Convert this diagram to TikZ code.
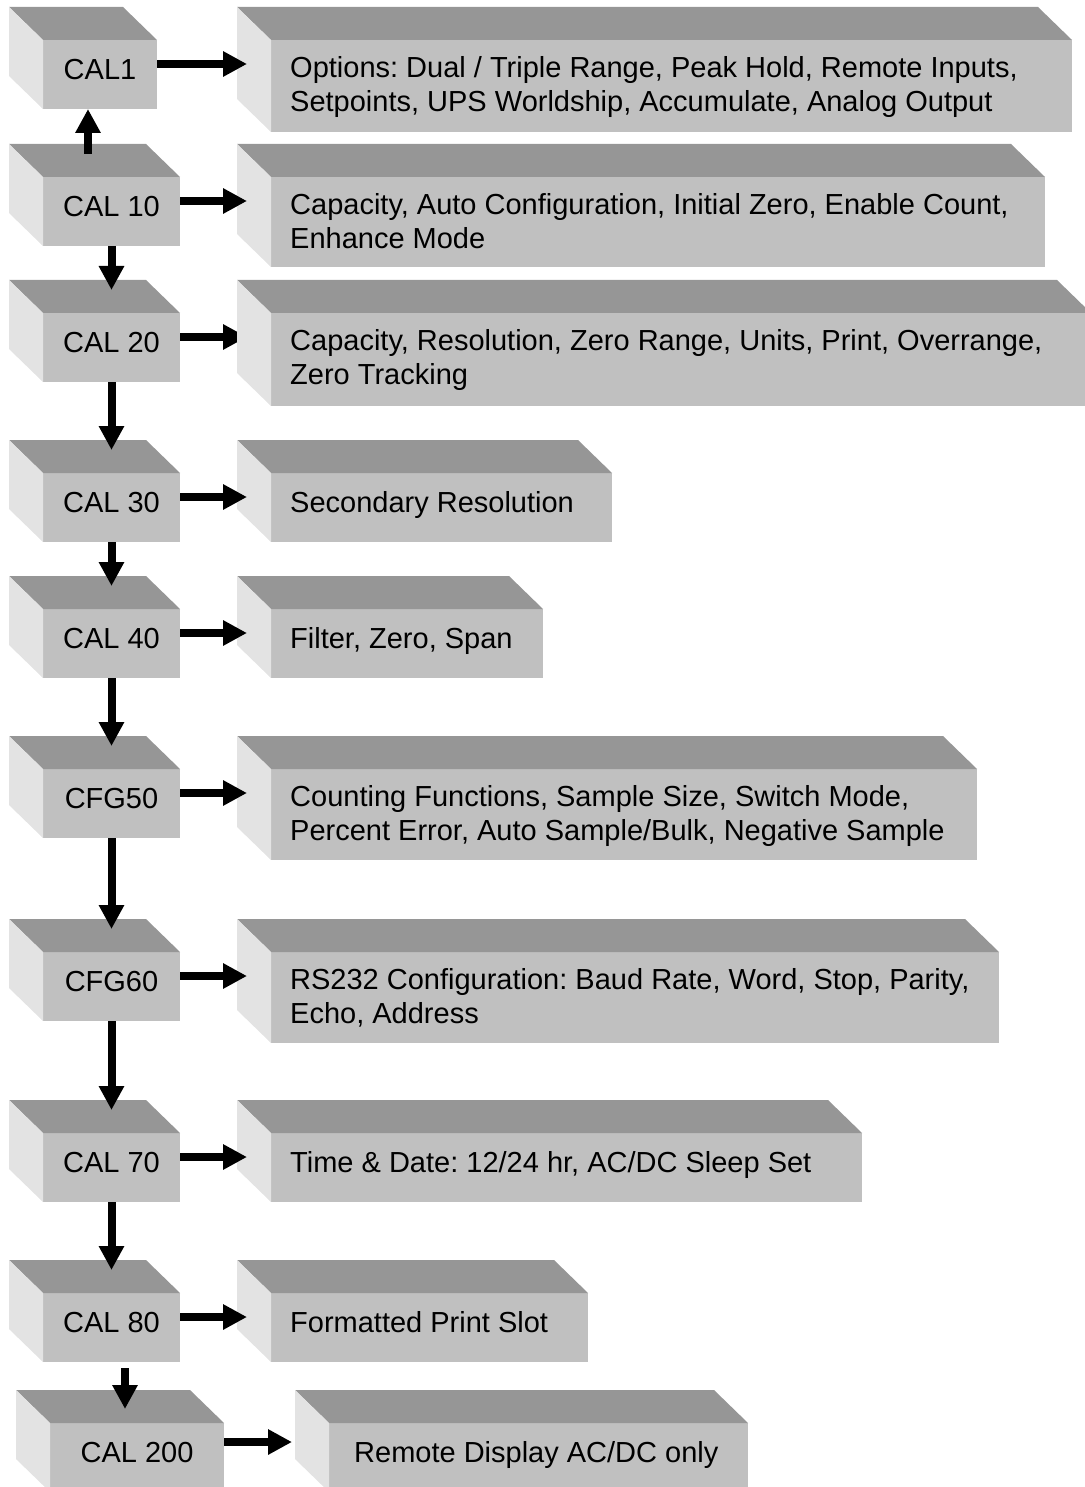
\documentclass[tikz,border=0pt]{standalone}
\usepackage{fontspec}
\setmainfont{Liberation Sans}
\frenchspacing
\usetikzlibrary{calc,arrows.meta,backgrounds}
\definecolor{facegray}{HTML}{C0C0C0}
\definecolor{topgray}{HTML}{969696}
\definecolor{sidegray}{HTML}{E3E3E3}
\newcommand\cubesides[1]{%
  \fill[topgray] (#1.north west) -- ++(-34,-33) -- ($(#1.north east)+(-34,-33)$) -- (#1.north east) -- cycle;
  \fill[sidegray] (#1.north west) -- ++(-34,-33) -- ($(#1.south west)+(-34,-33)$) -- (#1.south west) -- cycle;}

\begin{document}
\begin{tikzpicture}[x=1pt,y=-1pt,
	face/.style={fill=facegray,inner sep=0pt,outer sep=0pt,anchor=north west,minimum height=69pt},
	boxtext/.style={font=\fontsize{29}{34}\selectfont,inner sep=0pt,align=left,anchor=north west,execute at begin node=\rule{0pt}{23pt}},
	flow/.style={line width=8pt,-{Triangle[length=24pt,width=24pt]}}]
	\useasboundingbox (0,0) rectangle (1084,1487);
	% steps on the left
	\node[face,minimum width=114pt] (c1) at (43,40) {};
	\node[face,minimum width=137pt] (c10) at (43,177) {};
	\node[face,minimum width=137pt] (c20) at (43,313) {};
	\node[face,minimum width=137pt] (c30) at (43,473) {};
	\node[face,minimum width=137pt] (c40) at (43,609) {};
	\node[face,minimum width=137pt] (c50) at (43,769) {};
	\node[face,minimum width=137pt] (c60) at (43,952) {};
	\node[face,minimum width=137pt] (c70) at (43,1133) {};
	\node[face,minimum width=137pt] (c80) at (43,1293) {};
	\node[face,minimum width=174pt] (c200) at (50,1423) {};
	% what each step sets
	\node[face,minimum width=801pt,minimum height=92pt] (o1) at (271,40) {};
	\node[face,minimum width=774pt,minimum height=90pt] (o10) at (271,177) {};
	\node[face,minimum width=820pt,minimum height=93pt] (o20) at (271,313) {};
	\node[face,minimum width=341pt] (o30) at (271,473) {};
	\node[face,minimum width=272pt] (o40) at (271,609) {};
	\node[face,minimum width=706pt,minimum height=91pt] (o50) at (271,769) {};
	\node[face,minimum width=728pt,minimum height=91pt] (o60) at (271,952) {};
	\node[face,minimum width=591pt] (o70) at (271,1133) {};
	\node[face,minimum width=317pt] (o80) at (271,1293) {};
	\node[face,minimum width=419pt] (o200) at (329,1423) {};
	\foreach \n in {c1,c10,c20,c30,c40,c50,c60,c70,c80,c200,o1,o10,o20,o30,o40,o50,o60,o70,o80,o200}
		\cubesides{\n};
	\foreach \n/\t in {c1/CAL1,c10/CAL 10,c20/CAL 20,c30/CAL 30,c40/CAL 40,c50/CFG50,c60/CFG60,c70/CAL 70,c80/CAL 80,c200/CAL 200}
		\node[boxtext,anchor=north] (t\n) at ($(\n.north)+(0,16)$) {\t};
	\node[boxtext] (to1) at ($(o1.north west)+(19,16)$) {Options: Dual / Triple Range, Peak Hold, Remote Inputs,\\Setpoints, UPS Worldship, Accumulate, Analog Output};
	\node[boxtext] (to10) at ($(o10.north west)+(19,16)$) {Capacity, Auto Configuration, Initial Zero, Enable Count,\\Enhance Mode};
	\node[boxtext] (to20) at ($(o20.north west)+(19,16)$) {Capacity, Resolution, Zero Range, Units, Print, Overrange,\\Zero Tracking};
	\node[boxtext] (to30) at ($(o30.north west)+(19,16)$) {Secondary Resolution};
	\node[boxtext] (to40) at ($(o40.north west)+(19,16)$) {Filter, Zero, Span};
	\node[boxtext] (to50) at ($(o50.north west)+(19,16)$) {Counting Functions, Sample Size, Switch Mode,\\Percent Error, Auto Sample/Bulk, Negative Sample};
	\node[boxtext] (to60) at ($(o60.north west)+(19,16)$) {RS232 Configuration: Baud Rate, Word, Stop, Parity,\\Echo, Address};
	\node[boxtext] (to70) at ($(o70.north west)+(19,16)$) {Time \& Date: 12/24 hr, AC/DC Sleep Set};
	\node[boxtext] (to80) at ($(o80.north west)+(19,16)$) {Formatted Print Slot};
	\node[boxtext] (to200) at ($(o200.north west)+(25,16)$) {Remote Display AC/DC only};
	% arrows across
	\foreach \n in {1,10,30,40,50,60,70,80}
		\draw[flow] ($(c\n.north east)+(0,24)$) -- ($(o\n.north west)+(-24,24)$);
	\begin{scope}[on background layer]
		\draw[flow] ($(c20.north east)+(0,24)$) -- ($(o20.north west)+(-24,24)$);
	\end{scope}
	\draw[flow] ($(c200.north east)+(0,19)$) -- ($(o200.north west)+(-37,19)$);
	% arrows down
	\draw[flow] ($(c10.north west)+(45,-23)$) -- ($(c1.south west)+(45,0)$);
	\foreach \a/\b in {10/20,20/30,30/40,40/50,50/60,60/70,70/80}
		\draw[flow] (c\a.south) -- ($(c\a.south |- c\b.north)+(0,-23)$);
	\draw[flow] ($(c80.south west)+(82,6)$) -- ($(c200.north west)+(75,-14)$);
\end{tikzpicture}
\end{document}
